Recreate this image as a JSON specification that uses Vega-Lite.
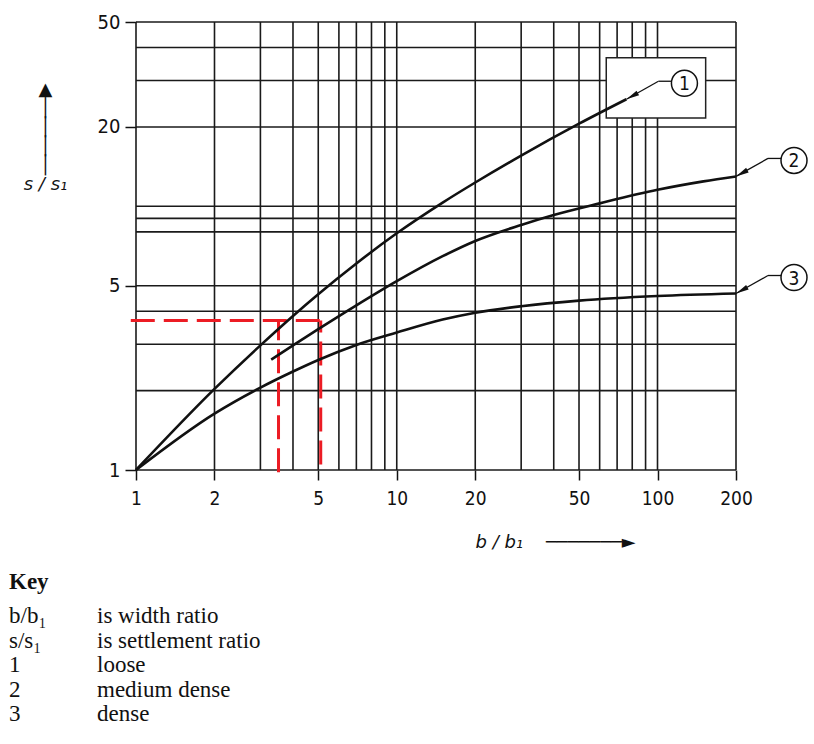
{
  "$schema": "https://vega.github.io/schema/vega-lite/v6.json",
  "width": 600,
  "height": 448,
  "autosize": {"type": "none"},
  "padding": {"left": 136, "top": 22, "right": 78, "bottom": 274},
  "background": "white",
  "config": {"view": {"stroke": null}},
  "datasets": {
    "gridx": [{"x": 1}, {"x": 2}, {"x": 3}, {"x": 4}, {"x": 5}, {"x": 6}, {"x": 7}, {"x": 8}, {"x": 9}, {"x": 10}, {"x": 20}, {"x": 30}, {"x": 40}, {"x": 50}, {"x": 60}, {"x": 70}, {"x": 80}, {"x": 90}, {"x": 100}, {"x": 200}],
    "gridy": [{"y": 1}, {"y": 2}, {"y": 3}, {"y": 4}, {"y": 5}, {"y": 8}, {"y": 9}, {"y": 10}, {"y": 20}, {"y": 30}, {"y": 40}, {"y": 50}],
    "box": [{"x": 63.6, "x2": 153, "y": 21.6, "y2": 36.6}],
    "red": [
      {"x": 0.955, "x2": 5.11, "y": 3.69, "y2": 3.69},
      {"x": 3.52, "x2": 3.52, "y": 0.98, "y2": 3.69},
      {"x": 5.11, "x2": 5.11, "y": 1.05, "y2": 3.69}
    ],
    "curves": [
      {"curve": "1", "x": 1, "y": 1}, {"curve": "1", "x": 2, "y": 2.03}, {"curve": "1", "x": 3, "y": 2.97}, {"curve": "1", "x": 4, "y": 3.84}, {"curve": "1", "x": 5, "y": 4.64}, {"curve": "1", "x": 7, "y": 6.07}, {"curve": "1", "x": 10, "y": 7.9}, {"curve": "1", "x": 15, "y": 10.33}, {"curve": "1", "x": 20, "y": 12.31}, {"curve": "1", "x": 30, "y": 15.57}, {"curve": "1", "x": 50, "y": 20.57}, {"curve": "1", "x": 76, "y": 25.47},
      {"curve": "2", "x": 3.3, "y": 2.62}, {"curve": "2", "x": 4, "y": 2.97}, {"curve": "2", "x": 5, "y": 3.42}, {"curve": "2", "x": 7, "y": 4.21}, {"curve": "2", "x": 10, "y": 5.2}, {"curve": "2", "x": 15, "y": 6.47}, {"curve": "2", "x": 20, "y": 7.39}, {"curve": "2", "x": 30, "y": 8.5}, {"curve": "2", "x": 40, "y": 9.27}, {"curve": "2", "x": 60, "y": 10.26}, {"curve": "2", "x": 100, "y": 11.55}, {"curve": "2", "x": 150, "y": 12.43}, {"curve": "2", "x": 200, "y": 12.98},
      {"curve": "3", "x": 1, "y": 1}, {"curve": "3", "x": 2, "y": 1.636}, {"curve": "3", "x": 3, "y": 2.053}, {"curve": "3", "x": 4, "y": 2.363}, {"curve": "3", "x": 5, "y": 2.614}, {"curve": "3", "x": 7, "y": 2.98}, {"curve": "3", "x": 10, "y": 3.32}, {"curve": "3", "x": 15, "y": 3.72}, {"curve": "3", "x": 20, "y": 3.95}, {"curve": "3", "x": 30, "y": 4.18}, {"curve": "3", "x": 50, "y": 4.39}, {"curve": "3", "x": 100, "y": 4.57}, {"curve": "3", "x": 200, "y": 4.67}
    ],
    "ends": [
      {"curve": "1", "x": 76, "y": 25.47},
      {"curve": "2", "x": 200, "y": 12.98},
      {"curve": "3", "x": 200, "y": 4.67}
    ],
    "keyrows": [
      {"row": 1, "sym": "b/b₁", "desc": "is width ratio"},
      {"row": 2, "sym": "s/s₁", "desc": "is settlement ratio"},
      {"row": 3, "sym": "1", "desc": "loose"},
      {"row": 4, "sym": "2", "desc": "medium dense"},
      {"row": 5, "sym": "3", "desc": "dense"}
    ],
    "keytitle": [{"row": 0, "t": "Key"}]
  },
  "resolve": {"scale": {"x": "independent", "y": "independent"}},
  "layer": [
    {
      "layer": [
        {
          "data": {"name": "gridx"},
          "mark": {"type": "rule", "color": "#1a1a1a", "strokeWidth": 1.6},
          "encoding": {
            "x": {
              "field": "x", "type": "quantitative",
              "scale": {"type": "log", "domain": [1, 200], "nice": false, "zero": false},
              "axis": {
                "values": [1, 2, 5, 10, 20, 50, 100, 200],
                "format": "d",
                "domain": false,
                "grid": false,
                "ticks": true,
                "tickSize": 10,
                "tickWidth": 1.5,
                "tickColor": "#111",
                "labelFlush": false,
                "labelOverlap": false,
                "labelPadding": 9,
                "labelFont": "DejaVu Sans Condensed, Liberation Sans Narrow, DejaVu Sans, sans-serif",
                "labelFontSize": 19,
                "labelColor": "#111",
                "title": "b / b₁\u00a0\u00a0\u00a0 ───────►",
                "titleFont": "DejaVu Sans",
                "titleFontSize": 18,
                "titleFontStyle": "italic",
                "titleFontWeight": "normal",
                "titleColor": "#111",
                "titleAlign": "left",
                "titleBaseline": "middle",
                "titleX": 339,
                "titleY": 72
              }
            }
          }
        },
        {
          "data": {"name": "gridy"},
          "mark": {"type": "rule", "color": "#1a1a1a", "strokeWidth": 1.6},
          "encoding": {
            "y": {
              "field": "y", "type": "quantitative",
              "scale": {"type": "log", "domain": [1, 50], "nice": false, "zero": false},
              "axis": {
                "values": [1, 5, 20, 50],
                "format": "d",
                "domain": false,
                "grid": false,
                "ticks": true,
                "tickSize": 11,
                "tickWidth": 1.5,
                "tickColor": "#111",
                "labelFlush": false,
                "labelOverlap": false,
                "labelPadding": 5,
                "labelFont": "DejaVu Sans Condensed, Liberation Sans Narrow, DejaVu Sans, sans-serif",
                "labelFontSize": 20,
                "labelColor": "#111",
                "title": ["▲", "│", "│", "│", "│", "s / s₁"],
                "titleFont": "DejaVu Sans",
                "titleFontSize": 18,
                "titleFontStyle": "italic",
                "titleFontWeight": "normal",
                "titleColor": "#111",
                "titleAngle": 0,
                "titleAlign": "center",
                "titleBaseline": "alphabetic",
                "titleLineHeight": 19,
                "titleX": -91,
                "titleY": 72
              }
            }
          }
        },
        {
          "data": {"name": "box"},
          "mark": {"type": "rect", "fill": "white", "stroke": "#222", "strokeWidth": 1.5},
          "encoding": {
            "x": {"field": "x", "type": "quantitative", "scale": {"type": "log", "domain": [1, 200], "nice": false, "zero": false}},
            "x2": {"field": "x2"},
            "y": {"field": "y", "type": "quantitative", "scale": {"type": "log", "domain": [1, 50], "nice": false, "zero": false}},
            "y2": {"field": "y2"}
          }
        },
        {
          "data": {"name": "red"},
          "mark": {"type": "rule", "color": "#ec1c24", "strokeWidth": 3, "strokeDash": [24, 9]},
          "encoding": {
            "x": {"field": "x", "type": "quantitative", "scale": {"type": "log", "domain": [1, 200], "nice": false, "zero": false}},
            "x2": {"field": "x2"},
            "y": {"field": "y", "type": "quantitative", "scale": {"type": "log", "domain": [1, 50], "nice": false, "zero": false}},
            "y2": {"field": "y2"}
          }
        },
        {
          "data": {"name": "curves"},
          "mark": {"type": "line", "color": "#111", "strokeWidth": 2.6, "interpolate": "monotone"},
          "encoding": {
            "x": {"field": "x", "type": "quantitative", "scale": {"type": "log", "domain": [1, 200], "nice": false, "zero": false}},
            "y": {"field": "y", "type": "quantitative", "scale": {"type": "log", "domain": [1, 50], "nice": false, "zero": false}},
            "detail": {"field": "curve", "type": "nominal"}
          }
        },
        {
          "data": {"name": "ends"},
          "mark": {"type": "rule", "color": "#111", "strokeWidth": 1.3, "x2Offset": 32, "y2Offset": -18},
          "encoding": {
            "x": {"field": "x", "type": "quantitative", "scale": {"type": "log", "domain": [1, 200], "nice": false, "zero": false}},
            "x2": {"field": "x"},
            "y": {"field": "y", "type": "quantitative", "scale": {"type": "log", "domain": [1, 50], "nice": false, "zero": false}},
            "y2": {"field": "y"}
          }
        },
        {
          "data": {"name": "ends"},
          "mark": {"type": "rule", "color": "#111", "strokeWidth": 1.3, "xOffset": 32, "yOffset": -18, "x2Offset": 46, "y2Offset": -18},
          "encoding": {
            "x": {"field": "x", "type": "quantitative", "scale": {"type": "log", "domain": [1, 200], "nice": false, "zero": false}},
            "x2": {"field": "x"},
            "y": {"field": "y", "type": "quantitative", "scale": {"type": "log", "domain": [1, 50], "nice": false, "zero": false}},
            "y2": {"field": "y"}
          }
        },
        {
          "data": {"name": "ends"},
          "mark": {"type": "point", "shape": "M0,0L0.4,2L-0.4,2Z", "angle": 241, "size": 170, "filled": true, "color": "#111", "opacity": 1},
          "encoding": {
            "x": {"field": "x", "type": "quantitative", "scale": {"type": "log", "domain": [1, 200], "nice": false, "zero": false}},
            "y": {"field": "y", "type": "quantitative", "scale": {"type": "log", "domain": [1, 50], "nice": false, "zero": false}}
          }
        },
        {
          "data": {"name": "ends"},
          "mark": {"type": "point", "shape": "circle", "size": 676, "filled": false, "fill": "white", "fillOpacity": 1, "stroke": "#111", "strokeWidth": 1.5, "opacity": 1, "xOffset": 58, "yOffset": -16},
          "encoding": {
            "x": {"field": "x", "type": "quantitative", "scale": {"type": "log", "domain": [1, 200], "nice": false, "zero": false}},
            "y": {"field": "y", "type": "quantitative", "scale": {"type": "log", "domain": [1, 50], "nice": false, "zero": false}}
          }
        },
        {
          "data": {"name": "ends"},
          "mark": {"type": "text", "font": "DejaVu Sans Condensed, Liberation Sans Narrow, DejaVu Sans, sans-serif", "fontSize": 19, "color": "#111", "align": "center", "baseline": "middle", "xOffset": 58, "yOffset": -15},
          "encoding": {
            "x": {"field": "x", "type": "quantitative", "scale": {"type": "log", "domain": [1, 200], "nice": false, "zero": false}},
            "y": {"field": "y", "type": "quantitative", "scale": {"type": "log", "domain": [1, 50], "nice": false, "zero": false}},
            "text": {"field": "curve", "type": "nominal"}
          }
        }
      ]
    },
    {
      "layer": [
        {
          "data": {"name": "keytitle"},
          "mark": {"type": "text", "font": "Liberation Serif", "fontSize": 23, "fontWeight": "bold", "color": "#111", "align": "left", "baseline": "middle", "dy": -10},
          "encoding": {
            "x": {"datum": 0, "type": "quantitative", "scale": {"domain": [0, 1], "range": [-127, -39]}, "axis": null},
            "y": {"field": "row", "type": "quantitative", "scale": {"domain": [1, 5], "range": [594, 692], "zero": false}, "axis": null},
            "text": {"field": "t"}
          }
        },
        {
          "data": {"name": "keyrows"},
          "mark": {"type": "text", "font": "Liberation Serif", "fontSize": 23, "color": "#111", "align": "left", "baseline": "middle"},
          "encoding": {
            "x": {"datum": 0, "type": "quantitative", "scale": {"domain": [0, 1], "range": [-127, -39]}, "axis": null},
            "y": {"field": "row", "type": "quantitative", "scale": {"domain": [1, 5], "range": [594, 692], "zero": false}, "axis": null},
            "text": {"field": "sym"}
          }
        },
        {
          "data": {"name": "keyrows"},
          "mark": {"type": "text", "font": "Liberation Serif", "fontSize": 23, "color": "#111", "align": "left", "baseline": "middle"},
          "encoding": {
            "x": {"datum": 1, "type": "quantitative", "scale": {"domain": [0, 1], "range": [-127, -39]}, "axis": null},
            "y": {"field": "row", "type": "quantitative", "scale": {"domain": [1, 5], "range": [594, 692], "zero": false}, "axis": null},
            "text": {"field": "desc"}
          }
        }
      ]
    }
  ]
}
